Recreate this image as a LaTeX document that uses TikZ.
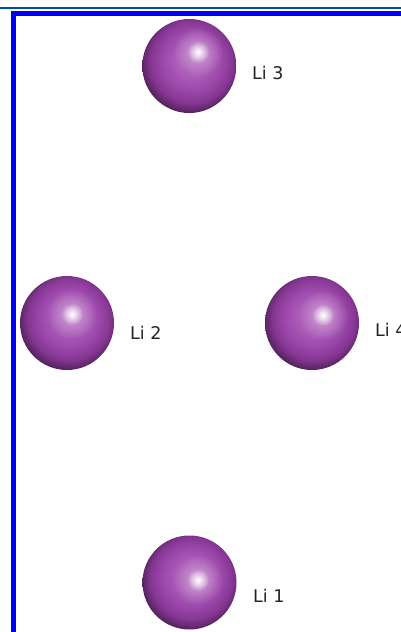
\documentclass[tikz,border=0pt]{standalone}
\usepackage{fontspec}
\setmainfont{DejaVu Sans}
\usetikzlibrary{fadings}
\pgfdeclareradialshading{lisphere}{\pgfpoint{2bp}{4bp}}{%
  rgb(0bp)=(0.69,0.40,0.73);
  rgb(9bp)=(0.67,0.36,0.72);
  rgb(16bp)=(0.61,0.28,0.67);
  rgb(22bp)=(0.52,0.21,0.57);
  rgb(26bp)=(0.36,0.15,0.40);
  rgb(30bp)=(0.21,0.10,0.25);
  rgb(50bp)=(0.21,0.10,0.25)}
\tikzfading[name=glowfade, inner color=transparent!0, outer color=transparent!100]
\definecolor{toprule}{RGB}{0,80,160}
\definecolor{frameblue}{RGB}{0,0,245}
\definecolor{labelgray}{RGB}{35,35,35}
\tikzset{
  atomball/.style={circle, draw=none, inner sep=0pt, minimum size=94pt, shading=lisphere},
  atomlabel/.style={anchor=base west, inner sep=0pt, text=labelgray, font=\fontsize{17.5pt}{19pt}\selectfont},
  glowsoft/.style={circle, inner sep=0pt, minimum size=50pt, fill=white, fill opacity=0.4, path fading=glowfade},
  glowcore/.style={circle, inner sep=0pt, minimum size=22pt, fill=white, path fading=glowfade},
}
\begin{document}
\begin{tikzpicture}[x=1pt,y=-1pt]
\path[use as bounding box] (0,0) rectangle (401,632);
\clip (0,0) rectangle (401,632);
\fill[white] (0,0) rectangle (401,632);
\fill[toprule] (0,7.2) rectangle (401,8.8);
\fill[frameblue] (11,11) rectangle (401,16);
\fill[frameblue] (11,11) rectangle (16,632);
\node[atomball] (li3) at (189.3,66) {};
\node[atomball] (li2) at (67,323) {};
\node[atomball] (li4) at (312,323) {};
\node[atomball] (li1) at (189.5,582.5) {};
\node[glowsoft] (g3a) at (198,52) {};
\node[glowcore] (g3b) at (198,52) {};
\node[glowsoft] (g2a) at (72,314) {};
\node[glowcore] (g2b) at (72,314) {};
\node[glowsoft] (g4a) at (323,315) {};
\node[glowcore] (g4b) at (323,315) {};
\node[glowsoft] (g1a) at (198,580) {};
\node[glowcore] (g1b) at (198,580) {};
\node[atomlabel] (l3) at (252,79) {Li 3};
\node[atomlabel] (l2) at (130,339) {Li 2};
\node[atomlabel] (l4) at (375,336) {Li 4};
\node[atomlabel] (l1) at (253,602) {Li 1};
\end{tikzpicture}
\end{document}
